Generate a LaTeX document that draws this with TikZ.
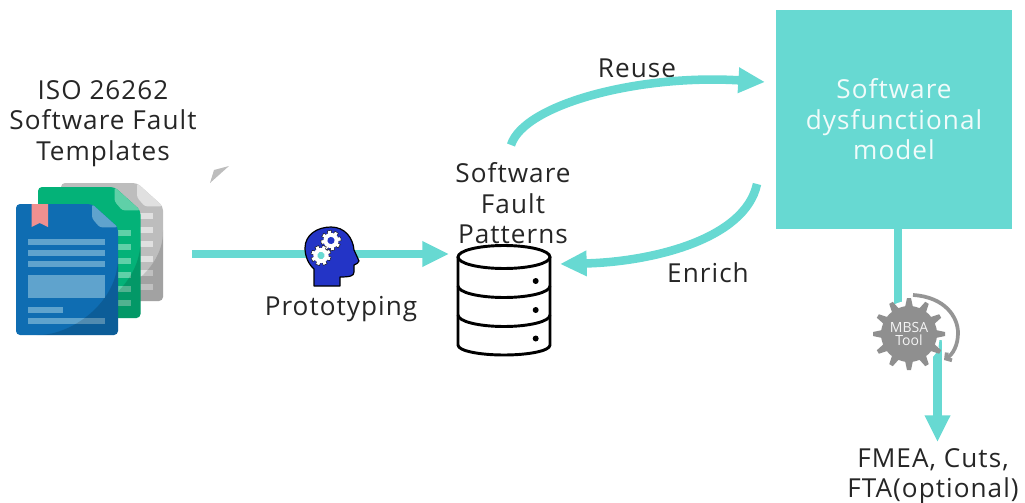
\documentclass[tikz,border=0pt]{standalone}
\usepackage{fontspec}
\setmainfont[LetterSpace=4]{Open Sans}
\usetikzlibrary{arrows.meta}
\definecolor{flowcol}{HTML}{67D9D2}
\definecolor{inkcol}{HTML}{262626}
\definecolor{bluedoc}{HTML}{0F6DB2}
\definecolor{bluelite}{HTML}{5FA3CD}
\definecolor{greendoc}{HTML}{04B278}
\definecolor{greenlite}{HTML}{5FD0A8}
\definecolor{graydoc}{HTML}{BDBDBD}
\definecolor{graylite}{HTML}{E0E0E0}
\definecolor{markcol}{HTML}{EF9090}
\definecolor{headcol}{HTML}{2334C6}
\definecolor{gearcol}{HTML}{8F8F8F}
\tikzset{
  lab/.style={align=center, text=inkcol, font=\fontsize{19.6}{22.9}\selectfont, inner sep=0pt},
  flow/.style={draw=flowcol, line width=6.4pt, -{Triangle[length=20pt, width=18pt]}},
  plainflow/.style={draw=flowcol, line width=6.4pt},
  disk/.style={line width=2.2pt, draw=black},
  pics/cog/.style={code={
    \foreach \a in {0,45,...,315} {
      \draw[fill=white, line width=0.3pt, rotate=\a] (6,-2) rectangle (10,2);
    }
    \fill[white] (0,0) circle (7.6);
    \fill[#1] (0,0) circle (3.6);
  }}
}
\newcommand{\docpage}[7]{% x, y, width, height, fold, body colour, fold colour
  \fill[#6, rounded corners=3] (#1,#2) -- (#1+#3-#5,#2) -- (#1+#3,#2+#5*.9) -- (#1+#3,#2+#4) -- (#1,#2+#4) -- cycle;
  \fill[#7, rounded corners=2] (#1+#3-#5,#2) -- (#1+#3,#2+#5*.9) -- (#1+#3-#5*.7,#2+#5*.9) -- (#1+#3-#5,#2+#5*.55) -- cycle;
}
\newcommand{\docshade}[4]{% x, y, width, height
  \fill[black, opacity=.14, rounded corners=3] (#1+#3,#2+#4*.38) .. controls (#1+#3,#2+#4*.75) and (#1+#3*.55,#2+#4) .. (#1+#3*.18,#2+#4) -- (#1+#3,#2+#4) -- cycle;
}
\begin{document}
\begin{tikzpicture}[x=0.75pt, y=-0.75pt]
  \useasboundingbox (0,0) rectangle (1025,503);
  % template sheets
  \docpage{61}{183}{102}{118}{26}{graydoc}{graylite}
  \foreach \y in {213,227,241,256,270,284} {
    \fill[graylite] (140,\y) rectangle (153,\y+5.5);
  }
  \docshade{61}{183}{102}{118}
  \docpage{38}{187}{102.5}{131}{26}{greendoc}{greenlite}
  \foreach \y in {230,244,258,272,286,300} {
    \fill[greenlite] (118,\y) rectangle (131,\y+5.5);
  }
  \docshade{38}{187}{102.5}{131}
  \docpage{16}{204}{102}{131}{26}{bluedoc}{bluelite}
  \fill[bluelite] (28,239) rectangle (105,244.5);
  \fill[bluelite] (28,250) rectangle (105,255.5);
  \fill[bluelite] (28,261) rectangle (105,267);
  \fill[bluelite] (28,275) rectangle (105,298);
  \fill[bluelite] (28,307) rectangle (63,312.5);
  \fill[bluelite] (28,318) rectangle (105,324);
  \docshade{16}{204}{102}{131}
  \fill[markcol] (31.5,204) -- (48,204) -- (48,227) -- (39.7,223) -- (31.5,227) -- cycle;
  \fill[graydoc] (229,166) -- (214,170) -- (210,183) -- cycle;

  \node[lab] (templates) at (103,123.5) {ISO 26262\\Software Fault\\Templates};
  \node[lab] (patternstxt) at (513,203.5) {Software\\Fault\\Patterns};
  \node[lab] (prototyping) at (341,309) {Prototyping};
  \node[lab] (reuse) at (637,68) {Reuse};
  \node[lab] (enrich) at (708,273) {Enrich};
  \node[lab] (fmea) at (933,476) {FMEA, Cuts,\\FTA(optional)};

  \coordinate (docsout) at (192,254);
  \coordinate (dbin) at (449,254);
  \coordinate (dbout) at (511,145);
  \coordinate (dbback) at (560,264);
  \coordinate (modelin) at (765,82);
  \coordinate (modelout) at (757,184);
  \coordinate (gearin) at (898,308);
  \coordinate (gearout) at (937.5,340);
  \coordinate (fmeain) at (937.5,442);

  \node[fill=flowcol, minimum width=177pt, minimum height=164.25pt, inner sep=0pt,
        align=center, text=white!90!flowcol, font=\fontsize{19.6}{22.9}\selectfont] (model) at (894,119.5)
        {Software\\dysfunctional\\model};

  \draw[flow] (docsout) -- (dbin);
  \draw[flow] (dbout) .. controls (524,104) and (640,74) .. (modelin);
  \draw[flow] (modelout) .. controls (745,240) and (650,262) .. (dbback);
  \draw[plainflow] (model.south -| gearin) -- (gearin);
  \draw[flow] (gearout) -- (fmeain);

  % head
  \draw[fill=headcol, line width=0.9pt, line join=round] (314,286) -- (314,269)
    .. controls (306,262) and (305,252) .. (305,248)
    .. controls (305,235) and (317,227) .. (331,227)
    .. controls (345,227) and (353,238) .. (354,250)
    -- (359,261) .. controls (359,263) and (356,264) .. (354,265)
    -- (354,272) .. controls (354,276) and (350,277) .. (340,277)
    -- (340,286) -- cycle;
  \pic[rotate=10] at (331,240.5) {cog=headcol};
  \pic[rotate=25] at (321,255.5) {cog=flowcol};

  % database
  \draw[disk, fill=white] (458,257) -- (458,345)
    .. controls (458,351) and (480,355) .. (504,355)
    .. controls (528,355) and (550,351) .. (550,345) -- (550,257);
  \draw[disk] (504,257) ellipse [x radius=46, y radius=11.5];
  \draw[disk] (458,286) arc [start angle=180, end angle=0, x radius=46, y radius=11.5];
  \draw[disk] (458,315) arc [start angle=180, end angle=0, x radius=46, y radius=11.5];
  \foreach \y in {281,310,338.5} {
    \fill (535.7,\y) circle (3);
  }

  % tool gear
  \fill[white] (909,334) circle (33);
  \fill[flowcol] (939.5,340) -- (941.5,340) -- (941,347) -- (938.5,347) -- cycle;
  \draw[gearcol!95!white, line width=2.8pt, -{Straight Barb[length=3pt, width=7pt]}]
    (913,295) .. controls (945,297) and (958,317) .. (958,333)
    .. controls (958,345) and (953,354) .. (944,360);
  \foreach \a in {0,30,...,330} {
    \fill[gearcol, rotate around={\a:(909,334)}] (907,298) -- (911,298) -- (914,312) -- (904,312) -- cycle;
  }
  \node[circle, fill=gearcol, minimum size=42pt, inner sep=0pt, align=center, text=white!90!gearcol,
        font=\fontsize{10.5}{10}\selectfont\addfontfeature{LetterSpace=0}] (gear) at (909,334) {MBSA\\Tool};
\end{tikzpicture}
\end{document}
